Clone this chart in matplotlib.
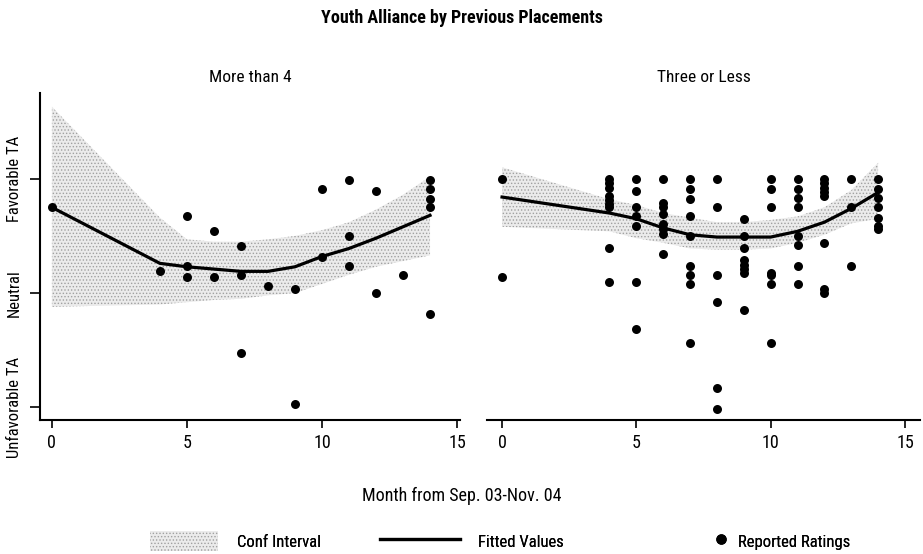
import matplotlib
matplotlib.use("Agg")
import matplotlib.pyplot as plt
from matplotlib.patches import Patch
from matplotlib.lines import Line2D

plt.rcParams['font.family'] = ['Roboto Condensed', 'DejaVu Sans']
plt.rcParams['hatch.linewidth'] = 0.6

# ---------------- data ----------------
title = "Youth Alliance by Previous Placements"
panel_titles = ["More than 4", "Three or Less"]
xlabel = "Month from Sep. 03-Nov. 04"
ytick_vals = [-1, 0, 1]
ytick_labels = ["Unfavorable TA", "Neutral", "Favorable TA"]
xtick_vals = [0, 5, 10, 15]
legend_labels = ["Conf Interval", "Fitted Values", "Reported Ratings"]

# Panel 1: More than 4
p1_x = [0, 4, 5, 5, 5, 6, 6, 7, 7, 7, 8, 9, 9, 10, 10, 11, 11, 11, 12, 12, 13, 14, 14, 14, 14, 14]
p1_y = [0.75, 0.19, 0.67, 0.24, 0.14, 0.54, 0.14, 0.41, 0.16, -0.52, 0.06, 0.04, -0.97,
        0.91, 0.32, 0.99, 0.50, 0.24, 0.89, 0.00, 0.16, 0.99, 0.91, 0.82, 0.75, -0.18]
p1_fit_x = [0, 4, 5, 6, 7, 8, 9, 10, 11, 12, 13, 14]
p1_fit = [0.75, 0.26, 0.23, 0.21, 0.19, 0.19, 0.23, 0.32, 0.39, 0.48, 0.58, 0.68]
p1_hi = [1.63, 0.66, 0.47, 0.45, 0.45, 0.47, 0.50, 0.55, 0.62, 0.73, 0.86, 1.02]
p1_lo = [-0.12, -0.10, -0.08, -0.06, -0.05, -0.02, 0.00, 0.08, 0.16, 0.23, 0.28, 0.33]

# Panel 2: Three or Less
p2_x = ([0, 0] + [4] * 9 + [5] * 7 + [6] * 8 + [7] * 9 + [8] * 6 + [9] * 8 + [10] * 7
        + [11] * 8 + [12] * 8 + [13] * 3 + [14] * 7)
p2_y = ([1.0, 0.14]
        + [1.0, 0.96, 0.92, 0.85, 0.81, 0.78, 0.75, 0.39, 0.10]
        + [1.0, 0.89, 0.75, 0.67, 0.59, 0.10, -0.31]
        + [1.0, 0.79, 0.75, 0.69, 0.60, 0.56, 0.52, 0.34]
        + [1.0, 0.91, 0.82, 0.67, 0.50, 0.24, 0.16, 0.08, -0.44]
        + [1.0, 0.75, 0.16, -0.08, -0.83, -1.01]
        + [0.65, 0.50, 0.39, 0.29, 0.25, 0.21, 0.18, -0.15]
        + [1.0, 0.91, 0.75, 0.18, 0.16, 0.08, -0.44]
        + [1.0, 0.91, 0.83, 0.75, 0.50, 0.42, 0.24, 0.08]
        + [1.0, 0.96, 0.92, 0.88, 0.85, 0.44, 0.04, 0.00]
        + [1.0, 0.75, 0.24]
        + [1.0, 0.91, 0.83, 0.75, 0.66, 0.59, 0.56])
p2_fit_x = [0, 4, 5, 6, 7, 8, 9, 10, 11, 12, 13, 14]
p2_fit = [0.84, 0.70, 0.65, 0.57, 0.51, 0.49, 0.49, 0.49, 0.54, 0.62, 0.74, 0.88]
p2_hi = [1.10, 0.82, 0.77, 0.70, 0.66, 0.62, 0.62, 0.64, 0.67, 0.75, 0.90, 1.14]
p2_lo = [0.58, 0.54, 0.48, 0.44, 0.39, 0.38, 0.38, 0.39, 0.44, 0.51, 0.61, 0.65]

# ---------------- figure ----------------
W, H = 923, 554
FS = 13
LFS = 12
fig = plt.figure(figsize=(W / 100, H / 100), dpi=100)

def px_axes(l, r, t, b):
    return fig.add_axes([l / W, 1 - b / H, (r - l) / W, (b - t) / H])

ax1 = px_axes(40, 460, 93, 420)
ax2 = px_axes(487, 920, 93, 420)

ci_face = '#ebebeb'
ci_hatch = '#a0a0a0'

panels = [
    (ax1, p1_x, p1_y, p1_fit_x, p1_fit, p1_lo, p1_hi, (-0.44, 15.11)),
    (ax2, p2_x, p2_y, p2_fit_x, p2_fit, p2_lo, p2_hi, (-0.56, 15.56)),
]
for i, (ax, x, y, fx, fy, lo, hi, xl) in enumerate(panels):
    ax.fill_between(fx, lo, hi, facecolor=ci_face, edgecolor=ci_hatch,
                    hatch='.....', linewidth=0, zorder=1)
    ax.plot(fx, fy, color='black', lw=2.3, zorder=2)
    ax.scatter(x, y, s=42, color='black', zorder=3, linewidths=0)
    ax.set_xlim(*xl)
    ax.set_ylim(-1.11, 1.75)
    ax.set_xticks(xtick_vals)
    ax.set_xticklabels([str(v) for v in xtick_vals], fontsize=FS)
    ax.tick_params(axis='x', direction='out', length=6, width=1.2, pad=4)
    for s in ['top', 'right']:
        ax.spines[s].set_visible(False)
    ax.spines['bottom'].set_linewidth(1.5)
    ax.set_title(panel_titles[i], fontsize=LFS + 0.5, pad=8)
    if i == 0:
        ax.set_yticks(ytick_vals)
        ax.set_yticklabels(ytick_labels, rotation=90, va='center', fontsize=LFS)
        ax.tick_params(axis='y', direction='out', length=7, width=1.2, pad=6)
        ax.spines['left'].set_linewidth(1.5)
    else:
        ax.set_yticks([])
        ax.spines['left'].set_visible(False)

fig.text(0.5, 1 - 18 / H, title, ha='center', va='center', fontsize=FS, fontweight='bold')
fig.text(0.5, 1 - 496 / H, xlabel, ha='center', va='center', fontsize=FS)

# legend: three single-entry legends so each key has its own width
fs_px = LFS * 100 / 72
leg_y = 1 - 541 / H
handles = [
    Patch(facecolor=ci_face, edgecolor=ci_hatch, hatch='.....', linewidth=0),
    Line2D([], [], color='black', lw=2.3),
    Line2D([], [], color='black', marker='o', markersize=6.5, linestyle='none'),
]
leg_specs = [(150, 68, 19), (380, 80, 18), (714, 14, 10)]
for h, lab, (x0, hl, tp) in zip(handles, legend_labels, leg_specs):
    lg = fig.legend(handles=[h], labels=[lab], loc='center left',
                    bbox_to_anchor=(x0 / W, leg_y), frameon=False, fontsize=LFS,
                    handlelength=hl / fs_px, handleheight=1.4, handletextpad=tp / fs_px,
                    borderpad=0, borderaxespad=0, numpoints=1)
    fig.add_artist(lg)

fig.savefig('out.png', dpi=100)
